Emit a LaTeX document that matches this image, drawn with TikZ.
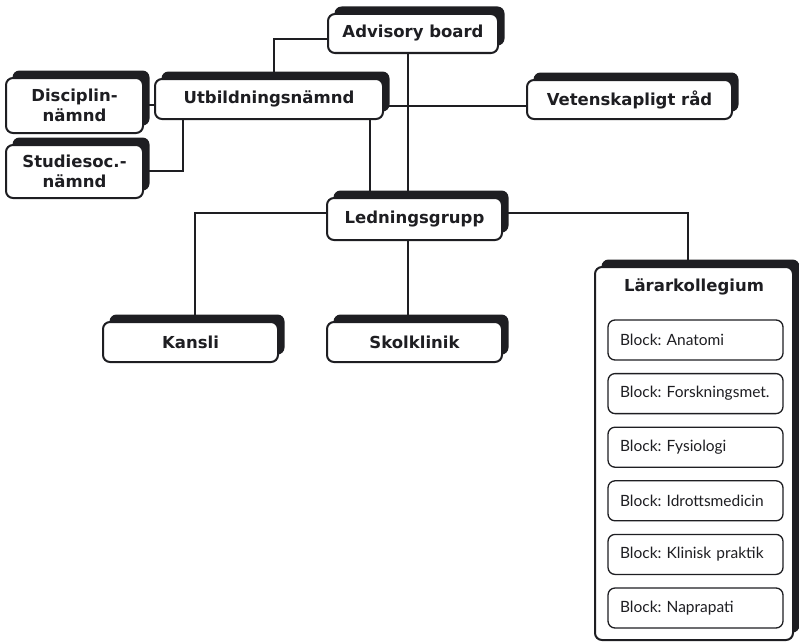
\documentclass[tikz,border=0pt]{standalone}
\usepackage{fontspec}
\setmainfont{DejaVu Sans}
\newfontfamily\blockfont{Lato}
\frenchspacing
\usetikzlibrary{shadows}
\pgfdeclarelayer{background}
\pgfsetlayers{background,main}
\definecolor{ink}{HTML}{1E1E22}
\tikzset{
  box/.style={draw=ink, line width=2pt, fill=white, rounded corners=7pt,
    font=\fontsize{16.5}{20}\selectfont\bfseries, text=ink, align=center, inner sep=0pt,
    drop shadow={shadow xshift=6.5pt, shadow yshift=7.5pt, fill=ink, opacity=1, rounded corners=8pt}},
  blockbox/.style={draw=ink, line width=1.3pt, fill=white, rounded corners=7pt,
    font=\blockfont\fontsize{15.5}{18}\selectfont, text=ink, anchor=center, inner sep=0pt, inner xsep=12pt,
    minimum width=175pt, minimum height=40pt, text width=151pt, align=left},
  conn/.style={draw=ink, line width=2pt}
}
\begin{document}
\begin{tikzpicture}[x=1pt,y=-1pt]
\useasboundingbox (0,0) rectangle (799,642);
\node[box, minimum width=170pt, minimum height=39pt] (adv) at (413,33.5) {Advisory board};
\node[box, minimum width=137pt, minimum height=55pt] (dis) at (74.5,105.5) {Disciplin-\\nämnd};
\node[box, minimum width=137pt, minimum height=53pt] (stu) at (74.5,171.5) {Studiesoc.-\\nämnd};
\node[box, minimum width=228pt, minimum height=40pt] (utb) at (269,99) {Utbildningsnämnd};
\node[box, minimum width=205pt, minimum height=39pt] (vet) at (629.5,99.5) {Vetenskapligt råd};
\node[box, minimum width=175pt, minimum height=42pt] (led) at (414.5,219) {Ledningsgrupp};
\node[box, minimum width=175pt, minimum height=40pt] (kan) at (190.5,342) {Kansli};
\node[box, minimum width=175pt, minimum height=40pt] (sko) at (414.5,342) {Skolklinik};
\node[box, minimum width=198pt, minimum height=373pt] (lar) at (694,453.5) {};
\node[font=\fontsize{16.5}{20}\selectfont\bfseries, text=ink, inner sep=0pt] (lart) at (694,287) {Lärarkollegium};
\node[blockbox] (b1) at (695.5,340) {Block: Anatomi};
\node[blockbox] (b2) at (695.5,393.6) {Block: Forskningsmet.};
\node[blockbox] (b3) at (695.5,447.2) {Block: Fysiologi};
\node[blockbox] (b4) at (695.5,500.8) {Block: Idrottsmedicin};
\node[blockbox] (b5) at (695.5,554.4) {Block: Klinisk praktik};
\node[blockbox] (b6) at (695.5,608) {Block: Naprapati};
\begin{pgfonlayer}{background}
\draw[conn] (adv.west |- 0,39) -| (utb.north -| 274,0);
\draw[conn] (adv.south -| 408,0) -- (led.north -| 408,0);
\draw[conn] (utb.east |- 0,106) -- (vet.west |- 0,106);
\draw[conn] (utb.west |- 0,105) -- (dis.east |- 0,105);
\draw[conn] (utb.south -| 183,0) |- (stu.east |- 0,171);
\draw[conn] (utb.south -| 370,0) -- (led.north -| 370,0);
\draw[conn] (led.west |- 0,213) -| (kan.north -| 195,0);
\draw[conn] (led.south -| 408,0) -- (sko.north -| 408,0);
\draw[conn] (led.east |- 0,213) -| (lar.north -| 688,0);
\end{pgfonlayer}
\end{tikzpicture}
\end{document}
